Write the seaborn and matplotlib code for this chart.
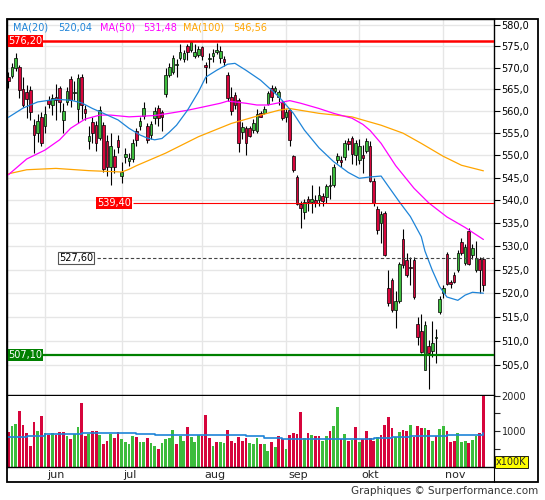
import matplotlib
matplotlib.use('Agg')
import matplotlib.pyplot as plt
import matplotlib.ticker as ticker
import matplotlib.transforms as mtransforms
from matplotlib.patches import Rectangle
from matplotlib.lines import Line2D
import numpy as np
import seaborn as sns

# Daily candles, index 0 = first session shown (late May) ... 130 = last (Nov)
opens = [567.9, 568.0, 570.0, 570.2, 565.1, 564.4, 564.9, 556.8, 555.0, 558.7,
         556.6, 562.5, 561.3, 563.3, 565.2, 558.0, 562.2, 567.3, 564.1, 560.6,
         567.8, 560.4, 553.2, 557.6, 556.8, 553.8, 556.8, 553.2, 547.5, 549.8,
         553.4, 545.5, 549.6, 548.8, 549.3, 555.4, 556.7, 559.0, 556.7, 554.6,
         558.4, 560.7, 559.7, 563.9, 568.2, 568.9, 570.6, 572.2, 572.1, 575.0,
         574.1, 572.6, 572.9, 574.8, 570.7, 571.9, 572.8, 573.7, 572.2, 572.1,
         568.4, 563.3, 563.7, 562.6, 555.2, 556.1, 556.1, 555.7, 555.4, 559.6,
         559.5, 561.7, 565.2, 564.7, 563.3, 562.2, 558.6, 560.2, 549.8, 545.1,
         539.2, 537.5, 540.4, 539.7, 540.1, 540.2, 540.9, 540.7, 543.1, 543.5,
         549.0, 548.9, 549.6, 553.2, 553.9, 550.1, 549.0, 550.1, 550.9, 552.1,
         544.4, 538.2, 535.1, 537.3, 521.1, 522.8, 516.5, 518.3, 531.6, 527.1,
         525.5, 527.1, 513.6, 512.1, 504.1, 508.9, 508.0, 510.6, 516.0, 520.0,
         528.4, 522.3, 523.9, 525.0, 530.9, 526.5, 533.4, 528.2, 525.0, 527.3,
         527.3]
highs = [568.9, 571.0, 573.5, 570.7, 567.8, 566.0, 565.7, 558.2, 559.3, 559.8,
         561.1, 563.4, 563.9, 566.3, 565.7, 561.8, 565.6, 568.0, 567.0, 568.6,
         568.6, 561.5, 556.6, 558.7, 557.8, 561.2, 557.6, 554.6, 555.1, 551.5,
         554.6, 548.5, 551.7, 550.5, 553.6, 556.1, 558.7, 562.2, 557.3, 557.7,
         561.0, 561.3, 560.2, 569.9, 571.0, 572.9, 571.9, 575.5, 574.1, 575.4,
         576.2, 575.4, 575.0, 575.0, 571.4, 573.4, 574.4, 575.7, 575.0, 572.6,
         568.9, 565.5, 564.4, 562.9, 557.6, 556.6, 556.6, 558.3, 560.5, 560.0,
         561.1, 564.5, 566.0, 565.7, 564.9, 562.6, 560.4, 560.6, 550.1, 545.6,
         539.9, 540.4, 540.9, 543.4, 541.2, 543.3, 541.6, 543.7, 545.7, 548.1,
         550.5, 549.8, 553.4, 553.9, 554.3, 553.4, 553.6, 552.3, 553.9, 553.2,
         544.9, 538.9, 537.8, 537.8, 525.0, 523.2, 520.4, 526.7, 533.7, 528.5,
         527.8, 527.8, 514.9, 515.7, 514.1, 510.1, 514.1, 512.4, 519.4, 521.8,
         528.8, 522.7, 524.6, 529.2, 531.8, 530.5, 534.0, 530.5, 531.1, 527.8,
         527.8]
lows = [565.2, 567.7, 569.2, 563.0, 560.9, 558.5, 558.0, 550.5, 553.1, 552.1,
        555.0, 560.7, 559.2, 558.0, 559.8, 555.0, 561.5, 560.9, 562.5, 557.2,
        558.3, 558.0, 551.5, 552.8, 551.0, 553.4, 546.4, 545.4, 543.4, 546.0,
        550.5, 543.8, 548.4, 547.7, 548.5, 552.1, 555.7, 558.3, 552.8, 553.6,
        557.0, 556.6, 555.6, 563.2, 567.8, 568.6, 567.8, 571.8, 571.4, 571.8,
        573.7, 572.2, 572.4, 571.8, 566.5, 570.0, 571.2, 573.1, 571.0, 570.3,
        562.3, 559.2, 560.4, 550.7, 553.6, 550.0, 554.1, 555.0, 555.0, 558.6,
        559.3, 561.4, 562.3, 564.1, 561.5, 558.0, 557.6, 552.0, 546.4, 539.1,
        534.0, 535.9, 537.8, 537.2, 538.5, 538.9, 538.9, 539.5, 540.4, 543.0,
        548.4, 547.4, 549.0, 551.3, 548.0, 547.8, 548.0, 546.1, 550.5, 544.0,
        538.9, 532.6, 530.8, 528.0, 517.2, 516.1, 512.6, 517.9, 525.4, 523.5,
        521.8, 518.7, 509.1, 507.5, 504.0, 500.2, 506.7, 505.5, 515.7, 518.9,
        521.8, 521.1, 522.1, 524.5, 528.2, 525.9, 525.9, 527.3, 524.6, 520.0,
        520.4]
closes = [567.0, 570.2, 572.2, 564.9, 561.5, 562.8, 559.7, 554.6, 557.7, 552.8,
          559.3, 561.7, 563.1, 562.5, 562.0, 560.1, 564.7, 562.6, 564.4, 567.5,
          561.5, 559.6, 554.4, 555.0, 552.7, 560.2, 546.9, 547.5, 552.2, 547.5,
          551.8, 546.4, 550.4, 549.5, 552.7, 553.5, 557.8, 560.7, 553.5, 557.0,
          560.0, 558.4, 558.7, 568.2, 570.2, 572.2, 570.8, 573.7, 573.4, 573.7,
          576.0, 573.6, 574.3, 572.6, 570.1, 572.3, 573.4, 574.0, 573.9, 571.3,
          563.0, 560.0, 561.3, 552.7, 556.5, 552.8, 554.4, 557.3, 559.3, 558.7,
          560.4, 564.1, 563.2, 565.4, 564.4, 558.4, 559.8, 553.5, 546.8, 539.3,
          538.4, 539.7, 539.7, 540.4, 539.5, 541.2, 539.9, 543.1, 543.5, 547.5,
          549.9, 548.6, 552.8, 552.6, 550.4, 552.7, 552.0, 549.4, 553.2, 544.4,
          539.5, 533.6, 537.1, 528.2, 517.9, 516.4, 518.3, 526.3, 525.9, 523.9,
          525.3, 519.2, 510.9, 507.8, 513.3, 507.4, 509.5, 510.8, 518.8, 521.1,
          522.0, 522.0, 522.3, 528.6, 528.6, 529.9, 526.3, 529.7, 527.5, 525.0,
          521.8]

# Volume in units of 100K, and the bar colour letter read for each session
volumes = [980, 1140, 1200, 1570, 1170, 960, 600, 1260, 1000, 1430,
           960, 890, 960, 900, 970, 980, 860, 770, 910, 1110,
           1800, 860, 930, 1000, 1000, 890, 630, 740, 930, 800,
           970, 770, 690, 630, 860, 830, 710, 690, 820, 660,
           600, 490, 670, 770, 800, 1030, 630, 870, 740, 1110,
           830, 690, 890, 860, 1460, 800, 600, 710, 710, 670,
           1030, 740, 670, 840, 740, 800, 670, 630, 800, 630,
           630, 460, 690, 570, 860, 790, 490, 890, 960, 910,
           1550, 810, 960, 890, 860, 860, 740, 860, 1000, 1140,
           1670, 770, 910, 720, 760, 1120, 710, 790, 1000, 820,
           740, 840, 890, 1170, 1410, 1080, 840, 980, 1030, 1000,
           1170, 840, 1140, 1080, 1080, 1030, 720, 860, 1050, 1140,
           1000, 700, 740, 960, 710, 740, 670, 760, 870, 950,
           2100]
vol_dir = ("rggrrrrrgr" "grgrrrgrgg" "rrgrrgrrgr" "rggggrggrg" "grggggrggr"
           "gggrrrgrgg" "rrrrrrgggr" "ggrgr"
           "rgrrrrgrgr" "rggrggrgrg" "rgrrrrgrrr" "rggrrgrrrg" "rgrggrrrgg" "grggrr")

# Volume average (step line)
volma_idx = [0, 5, 10, 15, 20, 25, 30, 35, 40, 45, 50, 55, 60, 65, 70, 75, 80,
             85, 90, 95, 100, 105, 110, 115, 120, 125, 130]
volma_val = [840, 880, 910, 930, 950, 950, 950, 910, 900, 890, 890, 890, 885,
             860, 820, 790, 770, 770, 780, 790, 820, 850, 860, 870, 890, 900, 940]

# Moving averages
ma20_idx = [0, 4, 8, 13, 17, 20, 23, 26, 30, 33, 36, 38, 40, 42, 44, 46, 49, 52,
            54, 57, 60, 62, 65, 69, 74, 78, 81, 85, 89, 93, 96, 99, 102, 104, 107,
            110, 113, 114, 116, 118, 120, 123, 125, 127, 130]
ma20_val = [558.6, 560.7, 562.1, 562.7, 562.5, 561.9, 560.6, 559.5, 558.0, 556.1,
            554.6, 553.9, 553.5, 553.8, 555.2, 556.8, 560.2, 564.4, 567.8, 569.4,
            570.8, 571.0, 569.4, 567.1, 563.3, 559.5, 555.7, 551.7, 548.6, 546.2,
            544.9, 545.2, 545.4, 543.1, 539.7, 536.5, 532.1, 529.0, 524.9, 521.4,
            519.2, 518.5, 519.6, 520.2, 520.0]
ma50_idx = [0, 5, 10, 14, 17, 21, 25, 28, 33, 40, 44, 49, 53, 58, 60, 65, 68, 71,
            77, 80, 85, 89, 94, 97, 99, 102, 106, 111, 115, 120, 125, 130]
ma50_val = [545.7, 549.2, 551.2, 553.5, 556.1, 558.2, 559.1, 559.1, 558.7, 559.0,
            559.5, 560.2, 560.9, 561.8, 562.3, 561.8, 561.4, 561.4, 562.4, 561.8,
            560.6, 559.5, 558.4, 557.0, 555.6, 552.7, 547.7, 542.7, 539.5, 536.4,
            534.1, 531.5]
ma100_idx = [0, 5, 13, 22, 31, 33, 35, 43, 52, 61, 69, 74, 77, 85, 94, 102, 108,
             113, 119, 124, 130]
ma100_val = [545.9, 546.8, 547.1, 546.6, 546.3, 546.9, 547.7, 550.5, 554.2, 557.2,
             559.1, 560.2, 560.6, 559.5, 558.7, 556.8, 555.0, 552.7, 549.8, 547.8,
             546.56]
ma_names = ['MA(20)', 'MA(50)', 'MA(100)']
ma_last = [520.04, 531.48, 546.56]

month_start = [10, 31, 53, 76, 96, 119]
month_names = ['jun', 'jul', 'aug', 'sep', 'okt', 'nov']

level_high = 576.20
level_res = 539.40
level_last = 527.60
level_low = 507.10

GREEN = '#3cbc3c'
RED = '#d6053c'
BLUE = '#1e84d8'
MAGENTA = '#ff00ff'
ORANGE = '#ffa500'
GRID = '#e6e6e6'

sns.set_style('white')
plt.rcParams['font.family'] = ['DejaVu Sans']

W, H = 545, 500
fig = plt.figure(figsize=(W / 100, H / 100), dpi=100)


def fx(px):
    return px / W


def fy(py):
    return 1 - py / H


ax = fig.add_axes([fx(7), fy(394.5), fx(494) - fx(7), fy(19) - fy(394.5)])
vax = fig.add_axes([fx(7), fy(467), fx(494) - fx(7), fy(395.5) - fy(467)], sharex=ax)

idx = np.arange(len(closes))
o, h, l, c = (np.array(a) for a in (opens, highs, lows, closes))
body_col = np.where(c >= o, GREEN, RED)

# Candles
ax.vlines(idx, l, h, color='black', lw=0.8, zorder=2)
ax.bar(idx, np.maximum(np.abs(c - o), 0.08), bottom=np.minimum(o, c), width=0.72,
       color=body_col, edgecolor='black', linewidth=0.5, zorder=3)

# Moving averages
for xs, ys, col in [(ma100_idx, ma100_val, ORANGE), (ma50_idx, ma50_val, MAGENTA),
                    (ma20_idx, ma20_val, BLUE)]:
    sns.lineplot(x=xs, y=ys, ax=ax, color=col, lw=0.9, zorder=4)

ax.set_yscale('log')
ax.set_ylim(499.0, 581.4)
ax.set_xlim(-0.4, 132.9)

# Levels
ax.axhline(level_high, color='#ff0000', lw=1.8, zorder=5)
ax.axhline(level_low, color='#008000', lw=1.6, zorder=5)
ax.hlines(level_res, 34.1, 133, color='#ff0000', lw=0.8, zorder=5)
ax.hlines(level_last, 24.2, 133, color='#444444', lw=0.8, linestyles=(0, (3, 2)), zorder=5)


def level_label(x, y, value, fc, tc='white', ec='none'):
    ax.text(x, y, f'{value:.2f}'.replace('.', ','), fontsize=7, color=tc, ha='left',
            va='center', zorder=6,
            bbox=dict(boxstyle='square,pad=0.1', fc=fc, ec=ec, lw=0.8))


level_label(-0.1, level_high, level_high, '#ff0000')
level_label(24.3, level_res, level_res, '#ff0000')
level_label(13.9, level_last, level_last, 'white', tc='black', ec='#555555')
level_label(-0.1, level_low, level_low, '#008000')

# Price axis
ax.yaxis.set_major_locator(ticker.FixedLocator(np.arange(505, 581, 5)))
ax.yaxis.set_minor_locator(ticker.NullLocator())
ax.yaxis.set_major_formatter(ticker.FuncFormatter(lambda v, p: f'{v:.1f}'.replace('.', ',')))
ax.yaxis.tick_right()
ax.tick_params(axis='y', direction='out', length=4, width=0.8, pad=1.5, labelsize=7,
               colors='black')
ax.set_xticks(month_start)
ax.tick_params(axis='x', bottom=False, labelbottom=False)
ax.grid(True, color=GRID, lw=1)
ax.set_axisbelow(True)
for s in ax.spines.values():
    s.set_visible(True)
    s.set_color('black')
    s.set_linewidth(1)

# Volume panel
vcol = [GREEN if d == 'g' else RED for d in vol_dir]
vax.bar(idx, volumes, width=0.75, color=vcol, linewidth=0, zorder=2)
sns.lineplot(x=volma_idx, y=volma_val, ax=vax, color=BLUE, lw=1.2,
             drawstyle='steps-post', zorder=3)
vax.set_ylim(0, 2000)
vax.set_yticks([500, 1000, 1500, 2000])
vax.set_yticklabels(['', '1000', '', '2000'])
vax.yaxis.tick_right()
vax.tick_params(axis='y', direction='out', length=4, width=0.8, pad=1.5, labelsize=7)
vax.tick_params(axis='x', bottom=False, labelbottom=False)
vax.grid(True, axis='x', color=GRID, lw=1)
vax.set_axisbelow(True)
vax.set_ylabel('')
ax.set_ylabel('')
for name, s in vax.spines.items():
    s.set_visible(name != 'top')
    s.set_color('black')
    s.set_linewidth(1)

# Month labels
tr = mtransforms.blended_transform_factory(vax.transData, fig.transFigure)
for m, s in zip(month_start, month_names):
    vax.text(m + 0.5, fy(477.5), s, transform=tr, fontsize=8, ha='left',
             va='baseline', clip_on=False)

# Legend line on top
legend_pos = [(13, 58), (100, 143), (183, 233)]
for (x1, x2), name, val, col in zip(legend_pos, ma_names, ma_last, [BLUE, MAGENTA, ORANGE]):
    fig.text(fx(x1), fy(30.5), name, color=col, fontsize=7, va='baseline')
    fig.text(fx(x2), fy(30.5), f'{val:.2f}'.replace('.', ','), color=col, fontsize=7,
             va='baseline')

fig.text(fx(496), fy(462), 'x100K', fontsize=7, ha='left', va='center',
         bbox=dict(boxstyle='square,pad=0.12', fc='#ffff00', ec='black', lw=0.6))
fig.text(fx(538), fy(494), 'Graphiques \u00a9 Surperformance.com', ha='right',
         va='baseline', fontsize=7.5, color='#333333')

# Outer frame
fig.add_artist(Rectangle((fx(6.5), fy(482)), fx(538) - fx(6.5), fy(18.5) - fy(482),
                         transform=fig.transFigure, fill=False, ec='black', lw=1.3))
fig.add_artist(Line2D([fx(494), fx(494)], [fy(467), fy(482)], transform=fig.transFigure,
                      color='black', lw=0.8))

plt.savefig('out.png', dpi=100)
plt.close()
